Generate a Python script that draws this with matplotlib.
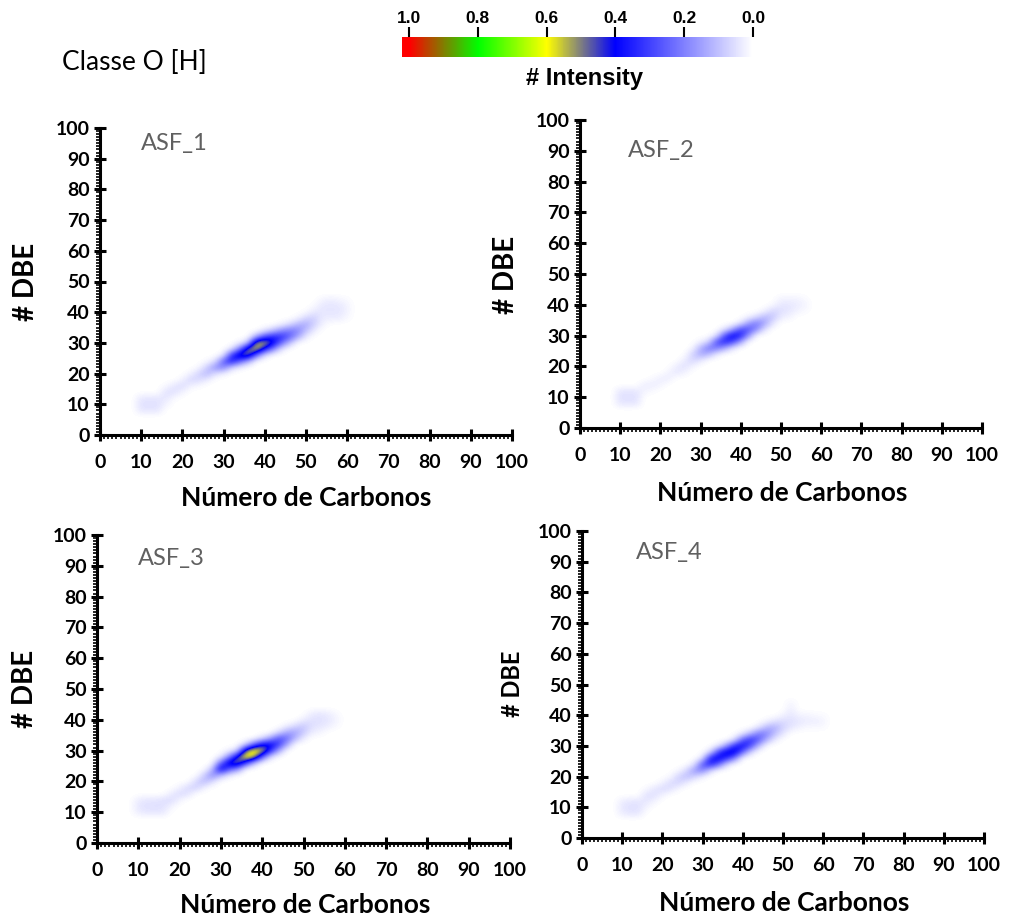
import numpy as np
import matplotlib.pyplot as plt
from matplotlib.colors import LinearSegmentedColormap
from matplotlib.ticker import MultipleLocator

W, H = 1025, 917

# relative intensity scale, 0 (white) to 1 (red)
scale_stops = [0.0, 0.2, 0.4, 0.6, 0.8, 1.0]
scale_colors = ['#ffffff', '#8080ff', '#0000ff', '#ffff00', '#00ff00', '#ff0000']
cbar_ticks = [1.0, 0.8, 0.6, 0.4, 0.2, 0.0]

# DBE x carbon number maps on a 2-unit grid: for every carbon number, the
# first DBE of the column and the intensities going up in steps of 2 DBE
asf1_c = [10, 12, 14, 16, 18, 20, 22, 24, 26, 28, 30, 32, 34, 36, 38, 40,
          42, 44, 46, 48, 50, 52, 54, 56, 58, 60]
asf1_dbe0 = [8, 8, 8, 10, 12, 14, 16, 16, 18, 20, 20, 22, 22, 24, 26, 26,
             28, 28, 30, 32, 32, 34, 36, 38, 38, 38]
asf1_int = [[0.04, 0.05, 0.04], [0.04, 0.05, 0.04], [0.04, 0.05, 0.04],
            [0.02, 0.04, 0.05, 0.01], [0.01, 0.05, 0.04], [0.02, 0.06, 0.02],
            [0.02, 0.07, 0.02], [0.01, 0.06, 0.07, 0.01], [0.03, 0.12, 0.08, 0.01],
            [0.05, 0.18, 0.05], [0.02, 0.20, 0.26, 0.03], [0.06, 0.38, 0.34, 0.04],
            [0.02, 0.24, 0.48, 0.22, 0.02], [0.12, 0.50, 0.52, 0.10],
            [0.22, 0.58, 0.56, 0.14], [0.05, 0.36, 0.56, 0.30, 0.04],
            [0.20, 0.42, 0.36, 0.10], [0.04, 0.24, 0.34, 0.18, 0.02],
            [0.10, 0.26, 0.22, 0.06], [0.14, 0.20, 0.12, 0.02],
            [0.03, 0.10, 0.14, 0.07, 0.01], [0.03, 0.07, 0.08, 0.04, 0.01],
            [0.02, 0.03, 0.04, 0.04, 0.02], [0.03, 0.04, 0.04, 0.03],
            [0.03, 0.04, 0.04, 0.02], [0.01, 0.02, 0.02, 0.01]]

asf2_c = [10, 12, 14, 16, 18, 20, 22, 24, 26, 28, 30, 32, 34, 36, 38, 40,
          42, 44, 46, 48, 50, 52, 54, 56]
asf2_dbe0 = [8, 8, 8, 12, 12, 14, 16, 18, 18, 20, 22, 24, 24, 26, 26, 28,
             30, 32, 32, 34, 36, 36, 38, 38]
asf2_int = [[0.04, 0.05, 0.04], [0.04, 0.05, 0.04], [0.04, 0.05, 0.04],
            [0.02, 0.03], [0.01, 0.03, 0.01], [0.02, 0.03], [0.03, 0.02],
            [0.04, 0.03], [0.02, 0.05, 0.03], [0.02, 0.07, 0.07, 0.01],
            [0.04, 0.14, 0.12, 0.02], [0.12, 0.22, 0.06], [0.03, 0.22, 0.28, 0.04],
            [0.14, 0.36, 0.28, 0.04], [0.04, 0.30, 0.42, 0.14],
            [0.14, 0.36, 0.30, 0.04], [0.16, 0.28, 0.16, 0.02],
            [0.18, 0.22, 0.06], [0.04, 0.14, 0.12, 0.02], [0.04, 0.09, 0.07, 0.01],
            [0.03, 0.05, 0.04, 0.02], [0.02, 0.04, 0.04, 0.02],
            [0.02, 0.03, 0.02], [0.01, 0.02, 0.01]]

asf3_c = [10, 12, 14, 16, 18, 20, 22, 24, 26, 28, 30, 32, 34, 36, 38, 40,
          42, 44, 46, 48, 50, 52, 54, 56, 58]
asf3_dbe0 = [10, 10, 10, 10, 12, 14, 16, 18, 18, 20, 22, 22, 24, 26, 26, 28,
             28, 30, 32, 34, 34, 36, 36, 38, 38]
asf3_int = [[0.03, 0.04, 0.03], [0.04, 0.05, 0.04], [0.04, 0.05, 0.04],
            [0.04, 0.05, 0.05], [0.02, 0.06, 0.03], [0.02, 0.06, 0.02],
            [0.05, 0.06], [0.08, 0.06], [0.02, 0.12, 0.08], [0.05, 0.20, 0.10],
            [0.10, 0.45, 0.24, 0.02], [0.03, 0.26, 0.46, 0.18, 0.02],
            [0.18, 0.52, 0.44, 0.06], [0.32, 0.65, 0.48, 0.06],
            [0.10, 0.58, 0.65, 0.24], [0.26, 0.58, 0.40, 0.05],
            [0.05, 0.34, 0.42, 0.14], [0.14, 0.32, 0.28, 0.05],
            [0.14, 0.24, 0.14, 0.02], [0.12, 0.15, 0.06], [0.03, 0.09, 0.09, 0.03],
            [0.03, 0.05, 0.05, 0.03], [0.02, 0.04, 0.05, 0.04],
            [0.03, 0.04, 0.03], [0.01, 0.02, 0.01]]

asf4_c = [10, 12, 14, 16, 18, 20, 22, 24, 26, 28, 30, 32, 34, 36, 38, 40,
          42, 44, 46, 48, 50, 52, 54, 56, 58, 60]
asf4_dbe0 = [8, 8, 8, 10, 12, 14, 16, 16, 18, 20, 20, 22, 24, 24, 26, 28,
             28, 30, 32, 32, 34, 36, 36, 36, 36, 36]
asf4_int = [[0.03, 0.04, 0.03], [0.04, 0.05, 0.04], [0.04, 0.05, 0.04],
            [0.02, 0.04, 0.05, 0.01], [0.02, 0.05, 0.04], [0.02, 0.06, 0.02],
            [0.05, 0.06, 0.01], [0.01, 0.07, 0.07, 0.01], [0.03, 0.11, 0.06],
            [0.07, 0.17, 0.04], [0.02, 0.20, 0.28, 0.04], [0.06, 0.36, 0.38, 0.06],
            [0.24, 0.42, 0.32, 0.03], [0.06, 0.34, 0.44, 0.16],
            [0.20, 0.44, 0.36, 0.05], [0.24, 0.40, 0.26, 0.03],
            [0.06, 0.28, 0.34, 0.12], [0.10, 0.26, 0.22, 0.04],
            [0.12, 0.20, 0.12, 0.02], [0.03, 0.10, 0.13, 0.05],
            [0.04, 0.07, 0.06, 0.02], [0.04, 0.05, 0.04, 0.03, 0.02],
            [0.02, 0.04, 0.02], [0.01, 0.03, 0.02], [0.01, 0.03, 0.01],
            [0.01, 0.02, 0.01]]

samples = ['ASF_1', 'ASF_2', 'ASF_3', 'ASF_4']

plt.rcParams['font.family'] = ['Lato', 'DejaVu Sans']
plt.rcParams['font.weight'] = 'bold'

cmap = LinearSegmentedColormap.from_list('intensity', list(zip(scale_stops, scale_colors)))
cmap.set_under('white')


def fx(x):
    return x / W


def fy(y):
    return 1 - y / H


def to_grid(c, dbe0, vals):
    grid = np.zeros((51, 51))
    for ci, d0, col in zip(c, dbe0, vals):
        for k, v in enumerate(col):
            grid[d0 // 2 + k, ci // 2] = v
    return grid


fig = plt.figure(figsize=(W / 100, H / 100), dpi=100)


def draw_panel(rect, grid, name, name_pos, ylab_pos, ylab_size, xlab_pos):
    l, t, r, b = rect
    ax = fig.add_axes([fx(l), fy(b), (r - l) / W, (b - t) / H])
    ax.imshow(grid, origin='lower', extent=(-1, 101, -1, 101), cmap=cmap,
              vmin=0, vmax=1, interpolation='bicubic',
              interpolation_stage='data', aspect='auto')
    ax.set_xlim(0, 100)
    ax.set_ylim(0, 100)
    for s in ['top', 'right']:
        ax.spines[s].set_visible(False)
    for s in ['left', 'bottom']:
        ax.spines[s].set_linewidth(2.2)
    ax.xaxis.set_major_locator(MultipleLocator(10))
    ax.yaxis.set_major_locator(MultipleLocator(10))
    ax.xaxis.set_minor_locator(MultipleLocator(1))
    ax.yaxis.set_minor_locator(MultipleLocator(1))
    ax.tick_params(which='major', direction='inout', length=9, width=2.2,
                   labelsize=14)
    ax.tick_params(which='minor', direction='out', length=3, width=1.2)
    ax.tick_params(axis='x', which='major', pad=9)
    ax.tick_params(axis='y', which='major', pad=3)
    ax.text(name_pos[0], name_pos[1], name, fontsize=17, fontweight='normal',
            color='#606060', ha='left', va='center')
    fig.text(fx(ylab_pos[0]), fy(ylab_pos[1]), '# DBE', rotation=90,
             fontsize=ylab_size, ha='center', va='center')
    fig.text(fx(xlab_pos[0]), fy(xlab_pos[1]), 'Número de Carbonos',
             fontsize=19, ha='center', va='center')


draw_panel((100, 128, 512, 435), to_grid(asf1_c, asf1_dbe0, asf1_int),
           samples[0], (10, 95), (26, 282), 20, (306, 498))
draw_panel((580, 120, 982, 428), to_grid(asf2_c, asf2_dbe0, asf2_int),
           samples[1], (12, 90), (506, 275), 20, (782, 493))
draw_panel((97, 535, 510, 843), to_grid(asf3_c, asf3_dbe0, asf3_int),
           samples[2], (10, 92.5), (25, 689), 20, (305, 905))
draw_panel((582, 531, 984, 838), to_grid(asf4_c, asf4_dbe0, asf4_int),
           samples[3], (13.5, 93), (512, 684), 17, (784, 903))

fig.text(fx(62), fy(62), 'Classe O [H]', fontsize=19, fontweight='normal',
         ha='left', va='center')

# intensity scale bar across the top
cax = fig.add_axes([fx(402), fy(57), 373 / W, 20 / H])
lo, hi = -0.064, 1.02
cax.imshow(np.linspace(hi, lo, 500)[None, :], extent=(hi, lo, 0, 1),
           cmap=cmap, vmin=0, vmax=1, aspect='auto', interpolation='bilinear')
cax.set_xlim(hi, lo)
cax.set_ylim(0, 1)
for s in cax.spines.values():
    s.set_visible(False)
cax.set_yticks([])
cax.xaxis.tick_top()
cax.set_xticks(cbar_ticks)
cax.set_xticklabels([f'{v:.1f}' for v in cbar_ticks], family='Liberation Sans',
                    fontweight='bold', fontsize=12.5)
cax.tick_params(axis='x', direction='out', length=7, width=1.5, pad=1)
fig.text(fx(585), fy(78), '# Intensity', family='Liberation Sans',
         fontweight='bold', fontsize=17, ha='center', va='center')

fig.savefig('out.png', dpi=100)
